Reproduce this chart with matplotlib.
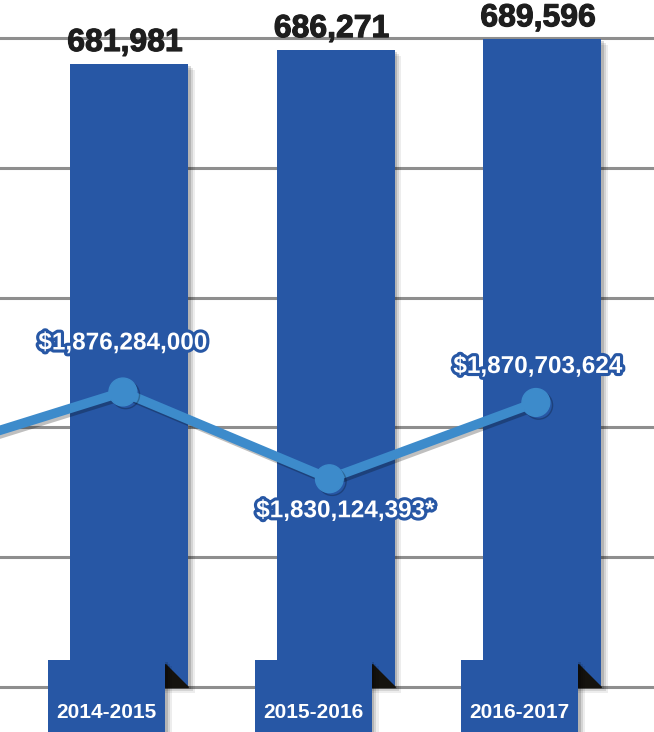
import numpy as np
import matplotlib
matplotlib.use("Agg")
import matplotlib.pyplot as plt
import matplotlib.patheffects as pe
from matplotlib.patches import Polygon

plt.rcParams["font.family"] = ["Liberation Sans", "DejaVu Sans"]

# ---------------------------------------------------------------- data
years = ["2014-2015", "2015-2016", "2016-2017"]
enrollment = [681981, 686271, 689596]
funding = [1876284000, 1830124393, 1870703624]
funding_notes = ["", "*", ""]
# previous year's value, only its line segment enters from the left edge (estimated)
prior_funding = 1842000000

# ---------------------------------------------------------------- style
BLUE = "#2757a5"
LINE_BLUE = "#3d8bcb"
GRID = "#8e8e8e"
INK = "#1e1e1e"
FOLD = "#15130e"

BASE, GRID_STEP = 490000, 40000          # bars start at the bottom rule
PX = 0.003245                            # pixels per enrollment unit
BAR_W = 0.571
TAB_SHIFT, TAB_W = -0.109, 0.567
LABEL_OFFSETS = [(0, 49), (16, -32), (2, 36)]

fig = plt.figure(figsize=(6.54, 7.32), dpi=100)
ax = fig.add_axes([0, 0, 1, 1])
ax.set_xlim(-0.625, 2.542)
ax.set_ylim(BASE - 45 / PX, BASE + 687 / PX)
ax.axis("off")

for g in BASE + GRID_STEP * np.arange(6):
    ax.axhline(g, color=GRID, lw=2.2, zorder=0)

x = np.arange(len(years))
shadow = [pe.SimplePatchShadow(offset=(5, -4), shadow_rgbFace="k", alpha=0.07),
          pe.SimplePatchShadow(offset=(3.5, -3), shadow_rgbFace="k", alpha=0.10),
          pe.SimplePatchShadow(offset=(2, -1.5), shadow_rgbFace="k", alpha=0.15),
          pe.Normal()]

bars = ax.bar(x, np.array(enrollment) - BASE, bottom=BASE, width=BAR_W,
              color=BLUE, zorder=2)
for b in bars:
    b.set_path_effects(shadow)

# folded corner + year tab at the foot of each bar
tab_bottom = BASE - 80 / PX
tab_top = BASE + 27 / PX
for i in x:
    xr = i + TAB_SHIFT + TAB_W / 2
    ax.add_patch(Polygon([(xr, BASE + 23 / PX), (xr, BASE), (i + BAR_W / 2, BASE)],
                         closed=True, color=FOLD, zorder=3))
tabs = ax.bar(x + TAB_SHIFT, tab_top - tab_bottom, bottom=tab_bottom, width=TAB_W,
              color=BLUE, zorder=4)
for t in tabs:
    t.set_path_effects(shadow)
for i, yr in zip(x, years):
    ax.annotate(yr, (i + TAB_SHIFT, BASE), xytext=(0, -25), textcoords="offset pixels",
                ha="center", va="center", color="white", fontsize=15,
                fontweight="bold", zorder=5)

for i, v in zip(x, enrollment):
    ax.annotate(f"{v:,}", (i, v), xytext=(-4, 21), textcoords="offset pixels",
                ha="center", va="center", color=INK, fontsize=23,
                fontweight="bold", zorder=5,
                path_effects=[pe.withStroke(linewidth=0.8, foreground=INK)])

# ---------------------------------------------------------------- funding line
ax2 = ax.twinx()
ax2.set_ylim(1695.4e6, 2084.8e6)
ax2.axis("off")
lx = np.concatenate([[-1], x]) - 0.03
ly = [prior_funding] + funding
ax2.plot(lx, ly, color=LINE_BLUE, lw=6.8, marker="o", ms=20, mec=LINE_BLUE,
         zorder=6, solid_capstyle="round",
         path_effects=[pe.SimpleLineShadow(offset=(2, -2), shadow_color="k", alpha=0.25),
                       pe.Normal()])
ax.set_zorder(1)
ax2.set_zorder(2)

for xi, v, note, off in zip(x - 0.03, funding, funding_notes, LABEL_OFFSETS):
    ax2.annotate(f"${v:,}{note}", (xi, v), xytext=off, textcoords="offset pixels",
                 ha="center", va="center", color="white", fontsize=17.5,
                 fontweight="bold", zorder=7,
                 path_effects=[pe.withStroke(linewidth=4.5, foreground=BLUE)])

fig.savefig("out.png", dpi=100)
